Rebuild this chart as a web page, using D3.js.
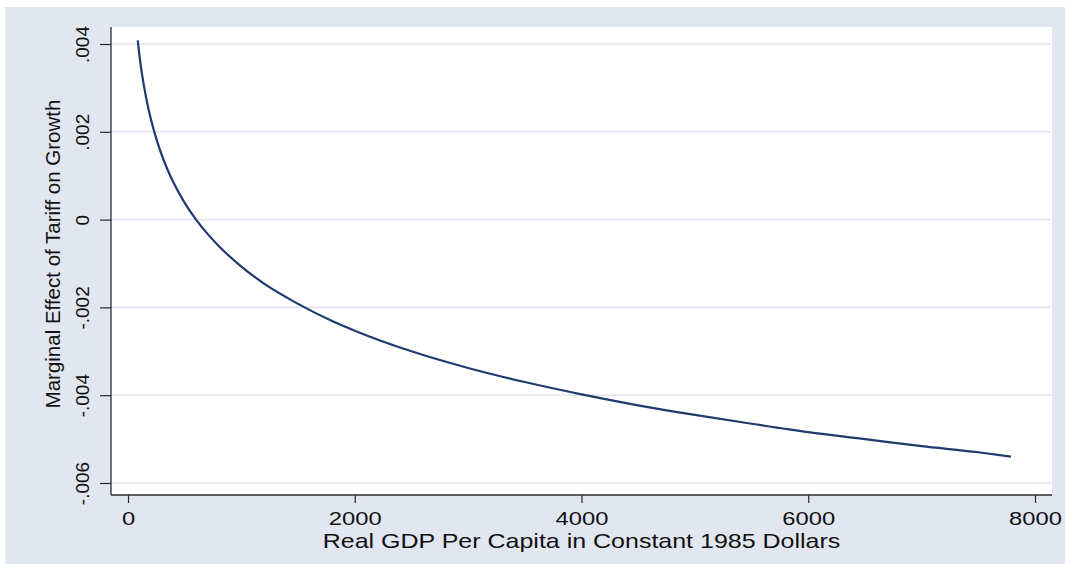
<!DOCTYPE html>
<html>
<head>
<meta charset="utf-8">
<script src="https://cdn.jsdelivr.net/npm/d3@7"></script>
<style>
  html, body { margin: 0; padding: 0; background: #ffffff; }
  svg { display: block; }
  text { font-family: "Liberation Sans", Arial, sans-serif; fill: #111; }
</style>
</head>
<body>
<svg id="chart" width="1065" height="564"></svg>
<script>
// Real GDP per capita (constant 1985 dollars)
const gdp = [86, 100, 125, 150, 175, 200, 250, 300, 350, 400, 500, 600, 700, 800,
             1000, 1200, 1500, 1800, 2000, 2500, 3000, 3500, 4000, 4500, 5000,
             5500, 6000, 6500, 7000, 7500, 7788];
// Marginal effect of tariff on growth at each income level
const effect = [0.00408, 0.00376, 0.00329, 0.00291, 0.00259, 0.00231, 0.00184,
                0.00146, 0.00113, 0.00085, 0.00038, 0.00000, -0.00032, -0.00060,
                -0.00107, -0.00146, -0.00192, -0.00231, -0.00253, -0.00300,
                -0.00338, -0.00370, -0.00398, -0.00423, -0.00445, -0.00465,
                -0.00484, -0.00500, -0.00516, -0.00530, -0.00540];
const xTicks = [0, 2000, 4000, 6000, 8000];
const xTickLabels = ["0", "2000", "4000", "6000", "8000"];
const yTicks = [0.004, 0.002, 0, -0.002, -0.004, -0.006];
const yTickLabels = [".004", ".002", "0", "-.002", "-.004", "-.006"];
const xTitle = "Real GDP Per Capita in Constant 1985 Dollars";
const yTitle = "Marginal Effect of Tariff on Growth";

const svg = d3.select("#chart");

// plot region bounds
const plot = { left: 111, right: 1052, top: 27, bottom: 495 };

const x = d3.scaleLinear().domain([0, 8000]).range([128, 1035]);
const y = d3.scaleLinear().domain([-0.006, 0.004]).range([483, 44]);

// outer graph region
svg.append("rect")
  .attr("x", 5).attr("y", 7)
  .attr("width", 1060).attr("height", 557)
  .attr("fill", "#e1e6f0");

// plot region
svg.append("rect")
  .attr("x", plot.left).attr("y", plot.top)
  .attr("width", plot.right - plot.left).attr("height", plot.bottom - plot.top)
  .attr("fill", "#ffffff");

// horizontal grid lines
svg.append("g").selectAll("line")
  .data(yTicks)
  .join("line")
  .attr("x1", plot.left).attr("x2", plot.right - 1)
  .attr("y1", d => y(d)).attr("y2", d => y(d))
  .attr("stroke", "#dfe4ee")
  .attr("stroke-width", 1.6);

// y axis
const yAxis = d3.axisLeft(y)
  .tickValues(yTicks)
  .tickSize(11)
  .tickFormat((d, i) => yTickLabels[i]);
const gy = svg.append("g")
  .attr("transform", `translate(${plot.left},0)`)
  .call(yAxis);
gy.select(".domain").remove();
gy.selectAll(".tick line").attr("stroke", "#2a2a2a").attr("stroke-width", 1.2);
gy.selectAll(".tick text").remove();
gy.selectAll(".tick").append("text")
  .attr("transform", "translate(-22,0) rotate(-90)")
  .attr("text-anchor", "middle")
  .attr("font-size", 19)
  .attr("fill", "#111")
  .text((d, i) => yTickLabels[i]);
svg.append("line")
  .attr("x1", plot.left).attr("x2", plot.left)
  .attr("y1", plot.top).attr("y2", plot.bottom)
  .attr("stroke", "#2a2a2a").attr("stroke-width", 1.3);

// x axis
const xAxis = d3.axisBottom(x)
  .tickValues(xTicks)
  .tickSize(8)
  .tickFormat((d, i) => xTickLabels[i]);
const gx = svg.append("g")
  .attr("transform", `translate(0,${plot.bottom})`)
  .call(xAxis);
gx.select(".domain").remove();
gx.selectAll(".tick line").attr("stroke", "#2a2a2a").attr("stroke-width", 1.2);
gx.selectAll(".tick text").remove();
gx.selectAll(".tick").append("text")
  .attr("transform", "translate(0,29.5) scale(1.25,1)")
  .attr("text-anchor", "middle")
  .attr("font-size", 19)
  .attr("fill", "#111")
  .text((d, i) => xTickLabels[i]);
svg.append("line")
  .attr("x1", plot.left).attr("x2", plot.right)
  .attr("y1", plot.bottom).attr("y2", plot.bottom)
  .attr("stroke", "#2a2a2a").attr("stroke-width", 1.3);

// axis titles
svg.append("text")
  .attr("transform", `translate(${(plot.left + plot.right) / 2},548) scale(1.19,1)`)
  .attr("text-anchor", "middle")
  .attr("font-size", 21)
  .text(xTitle);

svg.append("text")
  .attr("transform", "translate(60,254) rotate(-90)")
  .attr("text-anchor", "middle")
  .attr("font-size", 20.5)
  .text(yTitle);

// marginal effect curve
const line = d3.line()
  .x((d, i) => x(gdp[i]))
  .y(d => y(d))
  .curve(d3.curveMonotoneX);

svg.append("path")
  .datum(effect)
  .attr("d", line)
  .attr("fill", "none")
  .attr("stroke", "#1f3a6f")
  .attr("stroke-width", 2.2);
</script>
</body>
</html>
